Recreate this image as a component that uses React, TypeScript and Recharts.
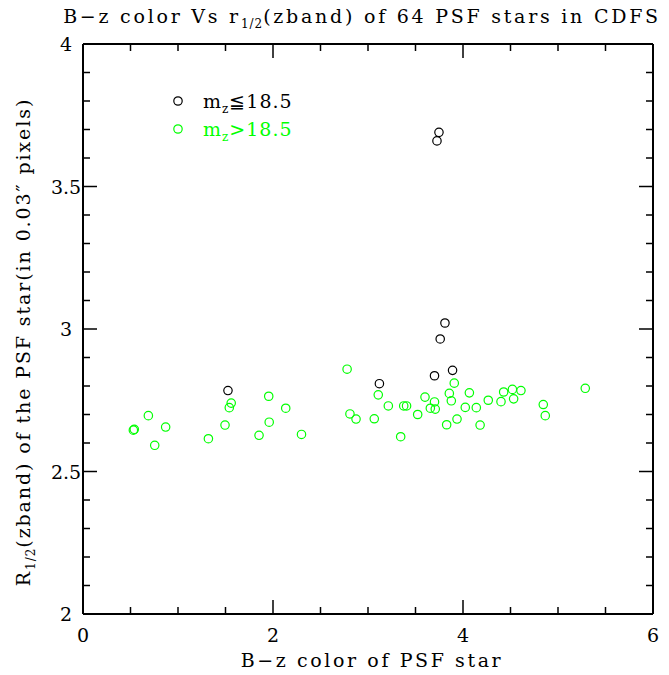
import { ScatterChart, Scatter, XAxis, YAxis } from "recharts";

// black: m_z <= 18.5
const brightX = [3.726, 3.747, 3.81, 3.76, 3.89, 3.70, 3.12, 1.526];
const brightY = [3.66, 3.69, 3.021, 2.965, 2.855, 2.836, 2.808, 2.784];

// green: m_z > 18.5
const faintX = [
  0.688, 0.53, 0.54, 0.87, 0.755, 1.32, 1.495, 1.54, 1.56, 1.853, 1.96, 1.955,
  2.134, 2.30, 2.78, 2.81, 2.874, 3.108, 3.066, 3.214, 3.376, 3.406, 3.344,
  3.523, 3.60, 3.70, 3.656, 3.708, 3.908, 3.856, 3.877, 4.024, 3.937, 3.828,
  4.067, 4.14, 4.18, 4.266, 4.40, 4.428, 4.52, 4.533, 4.61, 4.845, 4.866, 5.287,
];
const faintY = [
  2.696, 2.645, 2.648, 2.656, 2.592, 2.615, 2.663, 2.724, 2.74, 2.627, 2.673, 2.764,
  2.722, 2.63, 2.859, 2.702, 2.684, 2.769, 2.685, 2.73, 2.73, 2.73, 2.622,
  2.70, 2.761, 2.744, 2.722, 2.719, 2.81, 2.774, 2.748, 2.725, 2.684, 2.664,
  2.776, 2.724, 2.663, 2.75, 2.745, 2.779, 2.788, 2.755, 2.784, 2.735, 2.696, 2.792,
];

const xTicks = [0, 0.5, 1, 1.5, 2, 2.5, 3, 3.5, 4, 4.5, 5, 5.5, 6];
const xLabels = [0, 2, 4, 6];
const yTicks = [
  2, 2.1, 2.2, 2.3, 2.4, 2.5, 2.6, 2.7, 2.8, 2.9, 3, 3.1, 3.2, 3.3, 3.4, 3.5, 3.6,
  3.7, 3.8, 3.9, 4,
];
const yLabels = [2, 2.5, 3, 3.5, 4];

const bright = brightX.map((x, i) => ({ x, y: brightY[i] }));
const faint = faintX.map((x, i) => ({ x, y: faintY[i] }));

const FONT = "'DejaVu Serif', serif";
const GREEN = "#00ff00";

const isLabel = (list: number[], v: number) =>
  list.some((l) => Math.abs(l - v) < 1e-6);

const ring = (color: string) => (p: any) =>
  <circle cx={p.cx} cy={p.cy} r={4.2} fill="none" stroke={color} strokeWidth={1.2} />;

function makeTick(side: "bottom" | "top" | "left" | "right", majors: number[], labels: number[] | null) {
  return (p: any) => {
    const v = p.payload.value;
    const len = isLabel(majors, v) ? 14 : 7;
    let line;
    if (side === "bottom") line = <line x1={p.x} y1={p.y} x2={p.x} y2={p.y - len} />;
    else if (side === "top") line = <line x1={p.x} y1={p.y} x2={p.x} y2={p.y + len} />;
    else if (side === "left") line = <line x1={p.x} y1={p.y} x2={p.x + len} y2={p.y} />;
    else line = <line x1={p.x} y1={p.y} x2={p.x - len} y2={p.y} />;
    let text = null;
    if (labels && isLabel(labels, v)) {
      if (side === "bottom")
        text = (
          <text x={p.x} y={p.y + 28} textAnchor="middle" fontFamily={FONT} fontSize={19} fill="#000" stroke="none">
            {v}
          </text>
        );
      else
        text = (
          <text x={p.x - 17} y={p.y + 7} textAnchor="middle" fontFamily={FONT} fontSize={19} fill="#000" stroke="none">
            {v}
          </text>
        );
    }
    return (
      <g stroke="#000" strokeWidth={1.5}>
        {line}
        {text}
      </g>
    );
  };
}

export default function App() {
  const axisLine = { stroke: "#000", strokeWidth: 2 };
  return (
    <div style={{ position: "absolute", left: 0, top: 0, width: 669, height: 675, background: "#fff" }}>
      <ScatterChart width={669} height={675} margin={{ top: 43, right: 15, bottom: 0, left: 0 }}>
        <XAxis
          xAxisId={0}
          type="number"
          dataKey="x"
          domain={[0, 6]}
          allowDataOverflow
          ticks={xTicks}
          interval={0}
          height={61}
          tickSize={0}
          tickMargin={0}
          axisLine={axisLine}
          tickLine={false}
          tick={makeTick("bottom", xLabels, xLabels)}
        />
        <XAxis
          xAxisId="top"
          orientation="top"
          type="number"
          dataKey="x"
          domain={[0, 6]}
          allowDataOverflow
          ticks={xTicks}
          interval={0}
          height={1}
          tickSize={0}
          tickMargin={0}
          axisLine={axisLine}
          tickLine={false}
          tick={makeTick("top", xLabels, null)}
        />
        <YAxis
          yAxisId={0}
          type="number"
          dataKey="y"
          domain={[2, 4]}
          allowDataOverflow
          ticks={yTicks}
          interval={0}
          width={83}
          tickSize={0}
          tickMargin={0}
          axisLine={axisLine}
          tickLine={false}
          tick={makeTick("left", yLabels, yLabels)}
        />
        <YAxis
          yAxisId="right"
          orientation="right"
          type="number"
          dataKey="y"
          domain={[2, 4]}
          allowDataOverflow
          ticks={yTicks}
          interval={0}
          width={1}
          tickSize={0}
          tickMargin={0}
          axisLine={axisLine}
          tickLine={false}
          tick={makeTick("right", yLabels, null)}
        />
        {/* invisible series so the mirrored top/right axes get drawn */}
        <Scatter
          data={faint}
          xAxisId="top"
          yAxisId="right"
          shape={() => <g />}
          isAnimationActive={false}
          legendType="none"
        />
        <Scatter data={faint} shape={ring(GREEN)} isAnimationActive={false} />
        <Scatter data={bright} shape={ring("#000")} isAnimationActive={false} />
      </ScatterChart>
      <svg
        width={669}
        height={675}
        style={{ position: "absolute", left: 0, top: 0, pointerEvents: "none" }}
        fontFamily={FONT}
      >
        <text x={362} y={23} textAnchor="middle" fontSize={19} letterSpacing={2.75} fill="#000">
          B−z color Vs r
          <tspan dy={5} fontSize={12} letterSpacing={1}>1/2</tspan>
          <tspan dy={-5}>(zband) of 64 PSF stars in CDFS</tspan>
        </text>
        <text x={372} y={667} textAnchor="middle" fontSize={19} letterSpacing={2.6} fill="#000">
          B−z color of PSF star
        </text>
        <text x={30} y={342} textAnchor="middle" fontSize={19} letterSpacing={1.9} fill="#000" transform="rotate(-90 30 342)">
          R
          <tspan dy={5} fontSize={12} letterSpacing={1}>1/2</tspan>
          <tspan dy={-5}>(zband) of the PSF star(in 0.03″ pixels)</tspan>
        </text>
        <circle cx={178} cy={101} r={4.2} fill="none" stroke="#000" strokeWidth={1.2} />
        <text x={203} y={108} fontSize={19} letterSpacing={1} fill="#000">
          m<tspan dy={5} fontSize={12}>z</tspan>
          <tspan dy={-5}>≦18.5</tspan>
        </text>
        <circle cx={178} cy={129} r={4.2} fill="none" stroke={GREEN} strokeWidth={1.2} />
        <text x={203} y={136} fontSize={19} letterSpacing={1} fill={GREEN}>
          m<tspan dy={5} fontSize={12}>z</tspan>
          <tspan dy={-5}>&gt;18.5</tspan>
        </text>
      </svg>
    </div>
  );
}
